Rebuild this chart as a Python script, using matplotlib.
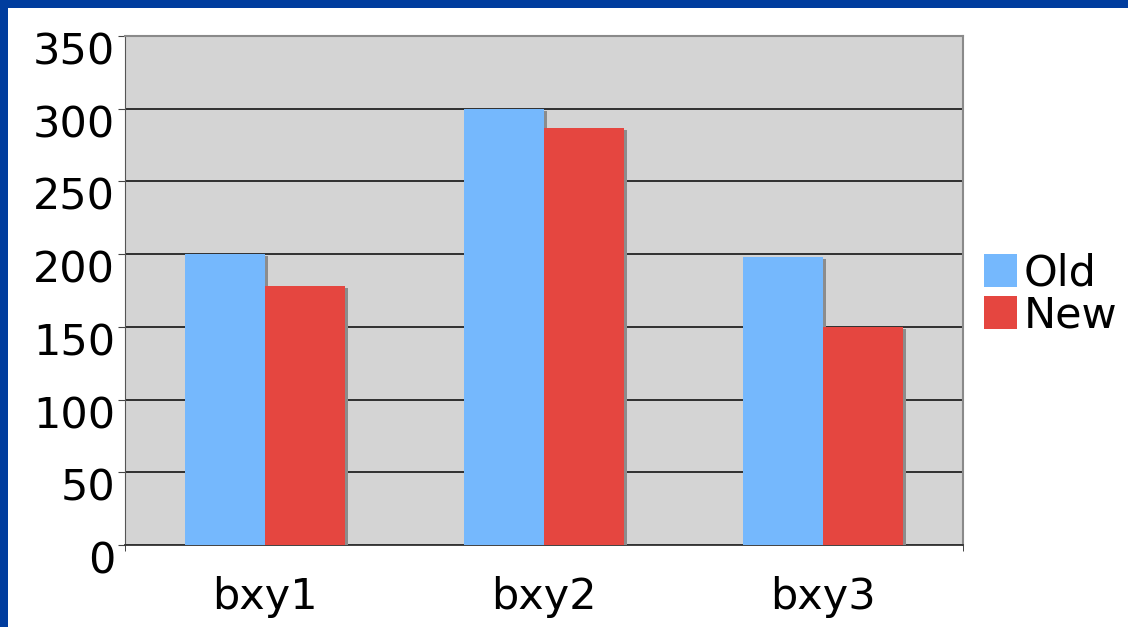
import matplotlib.pyplot as plt
import matplotlib.patheffects as pe
from matplotlib.patches import Rectangle, Patch
from matplotlib.transforms import ScaledTranslation
import numpy as np

categories = ['bxy1', 'bxy2', 'bxy3']
old_vals = [200, 300, 198]
new_vals = [178, 287, 150]
y_ticks = [0, 50, 100, 150, 200, 250, 300, 350]

BLUE = '#75b8fd'
RED = '#e54640'
BG = '#d4d4d4'
BORDER = '#003d9e'

fig = plt.figure(figsize=(11.28, 6.27), dpi=100)
fig.patch.set_facecolor('white')
# blue frame at top and left
fig.patches.append(Rectangle((0, 1 - 8 / 627), 1, 8 / 627, transform=fig.transFigure,
                             facecolor=BORDER, edgecolor='none', zorder=0))
fig.patches.append(Rectangle((0, 0), 8 / 1128, 1, transform=fig.transFigure,
                             facecolor=BORDER, edgecolor='none', zorder=0))

ax = fig.add_axes([125 / 1128, 82 / 627, 838 / 1128, 509 / 627])
ax.set_facecolor(BG)

x = np.arange(len(categories))
w = 0.286
shadow = [pe.SimplePatchShadow(offset=(2.2, -1.5), shadow_rgbFace='#8c8c8c', alpha=1.0), pe.Normal()]
b1 = ax.bar(x - w / 2, old_vals, w, color=BLUE, zorder=3)
b2 = ax.bar(x + w / 2, new_vals, w, color=RED, zorder=3)
for bars in (b1, b2):
    for p in bars:
        p.set_path_effects(shadow)

ax.set_xlim(-0.5, len(categories) - 0.5)
ax.set_ylim(0, 350)
ax.set_yticks(y_ticks)
ax.yaxis.grid(True, color='#222222', linewidth=1.3, zorder=1)
ax.set_axisbelow(True)

ax.set_xticks(x)
ax.set_xticklabels(categories, fontsize=31)
ax.tick_params(axis='x', length=0, pad=22)
ax.set_xticks([-0.5, len(categories) - 0.5], minor=True)
ax.tick_params(axis='x', which='minor', length=4, direction='out', color='#222222')
ax.tick_params(axis='y', labelsize=31, length=5, direction='out', pad=2, color='#444444')
# labels in the original sit below their tick lines
shift = ScaledTranslation(0, -0.12, fig.dpi_scale_trans)
for lab in ax.get_yticklabels():
    lab.set_transform(lab.get_transform() + shift)

for s in ['top', 'right']:
    ax.spines[s].set_color('#8a8a8a')
    ax.spines[s].set_linewidth(1.5)
ax.spines['left'].set_color('#555555')
ax.spines['bottom'].set_color('#333333')
ax.spines['bottom'].set_linewidth(1.3)

handles = [Patch(facecolor=BLUE, label='Old'), Patch(facecolor=RED, label='New')]
ax.legend(handles=handles, loc='center left', bbox_to_anchor=(1.004, 0.492), frameon=False, fontsize=31,
          handlelength=0.78, handleheight=0.78, handletextpad=0.15, labelspacing=0.0,
          borderaxespad=0)

fig.savefig('out.png', dpi=100)
